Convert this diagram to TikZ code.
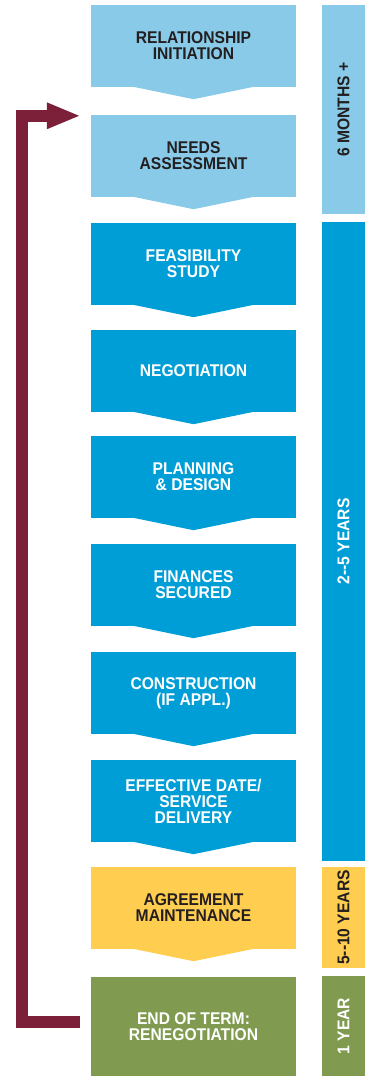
\documentclass[tikz,border=0pt]{standalone}
\usepackage{fontspec}
\setmainfont{Liberation Sans}
\newfontfamily\narrowfont{Liberation Sans}[FakeStretch=0.92]
\usetikzlibrary{arrows.meta}
\definecolor{paleblue}{RGB}{137,202,232}
\definecolor{deepblue}{RGB}{0,158,214}
\definecolor{gold}{RGB}{255,205,80}
\definecolor{olive}{RGB}{128,155,80}
\definecolor{wine}{RGB}{124,32,58}
\definecolor{ink}{RGB}{35,31,32}
\tikzset{
  stage/.style={rectangle,inner sep=0pt,minimum width=205pt,minimum height=82pt,
    align=center,font=\narrowfont\fontsize{17}{16}\selectfont\bfseries},
  span/.style={rectangle,inner sep=0pt,minimum width=43pt},
  spanlabel/.style={rotate=90,font=\narrowfont\fontsize{17}{17}\selectfont\bfseries},
  back/.style={wine,line width=12pt,-{Triangle[length=34pt,width=24pt]}}
}
\begin{document}
\begin{tikzpicture}[x=1pt,y=-1pt]
                    \useasboundingbox (0,0) rectangle (365,1076);
                    % stages
                    \node[stage,fill=paleblue,text=ink] (rel) at (193.5,46) {RELATIONSHIP\\INITIATION};
                    \node[stage,fill=paleblue,text=ink] (needs) at (193.5,156) {NEEDS\\ASSESSMENT};
                    \node[stage,fill=deepblue,text=white] (feas) at (193.5,264) {FEASIBILITY\\STUDY};
                    \node[stage,fill=deepblue,text=white] (nego) at (193.5,371) {NEGOTIATION};
                    \node[stage,fill=deepblue,text=white] (plan) at (193.5,477) {PLANNING\\\& DESIGN};
                    \node[stage,fill=deepblue,text=white] (fin) at (193.5,585) {FINANCES\\SECURED};
                    \node[stage,fill=deepblue,text=white] (cons) at (193.5,693) {CONSTRUCTION\\(IF APPL.)};
                    \node[stage,fill=deepblue,text=white] (eff) at (193.5,801) {EFFECTIVE DATE/\\SERVICE\\DELIVERY};
                    \node[stage,fill=gold,text=ink] (maint) at (193.5,908) {AGREEMENT\\MAINTENANCE};
                    \node[stage,fill=olive,text=white,minimum height=99pt] (eot) at (193.5,1026.5) {END OF TERM:\\RENEGOTIATION};
                    % chevrons under the stages
                    \fill[paleblue] ([xshift=42,yshift=0.5]rel.south west) -- ([yshift=-12]rel.south) -- ([xshift=-42,yshift=0.5]rel.south east) -- cycle;
                    \fill[paleblue] ([xshift=42,yshift=0.5]needs.south west) -- ([yshift=-12]needs.south) -- ([xshift=-42,yshift=0.5]needs.south east) -- cycle;
                    \fill[deepblue] ([xshift=42,yshift=0.5]feas.south west) -- ([yshift=-12]feas.south) -- ([xshift=-42,yshift=0.5]feas.south east) -- cycle;
                    \fill[deepblue] ([xshift=42,yshift=0.5]nego.south west) -- ([yshift=-12]nego.south) -- ([xshift=-42,yshift=0.5]nego.south east) -- cycle;
                    \fill[deepblue] ([xshift=42,yshift=0.5]plan.south west) -- ([yshift=-12]plan.south) -- ([xshift=-42,yshift=0.5]plan.south east) -- cycle;
                    \fill[deepblue] ([xshift=42,yshift=0.5]fin.south west) -- ([yshift=-12]fin.south) -- ([xshift=-42,yshift=0.5]fin.south east) -- cycle;
                    \fill[deepblue] ([xshift=42,yshift=0.5]cons.south west) -- ([yshift=-12]cons.south) -- ([xshift=-42,yshift=0.5]cons.south east) -- cycle;
                    \fill[deepblue] ([xshift=42,yshift=0.5]eff.south west) -- ([yshift=-12]eff.south) -- ([xshift=-42,yshift=0.5]eff.south east) -- cycle;
                    \fill[gold] ([xshift=42,yshift=0.5]maint.south west) -- ([yshift=-12]maint.south) -- ([xshift=-42,yshift=0.5]maint.south east) -- cycle;
                    % time spans
                    \node[span,fill=paleblue,minimum height=209pt] (months) at (343.5,109.5) {};
                    \node[span,fill=deepblue,minimum height=639pt] (years) at (343.5,541.5) {};
                    \node[span,fill=gold,minimum height=101pt] (decade) at (343.5,917.5) {};
                    \node[span,fill=olive,minimum height=100pt] (year) at (343.5,1026) {};
                    \node[spanlabel,text=ink] at (months) {6 MONTHS +};
                    \node[spanlabel,text=white] at (years) {2--5 YEARS};
                    \node[spanlabel,text=ink] at (decade) {5--10 YEARS};
                    \node[spanlabel,text=white] at (year) {1 YEAR};
                    % loop back
                    \coordinate (rail) at (22,0);
                    \draw[back] ([xshift=-11,yshift=4.5]eot.west) -- ([yshift=4.5]eot.west -| rail) -- ([yshift=-1]needs.north west -| rail) -- ([xshift=-10,yshift=-1]needs.north west);
                \end{tikzpicture}
\end{document}
